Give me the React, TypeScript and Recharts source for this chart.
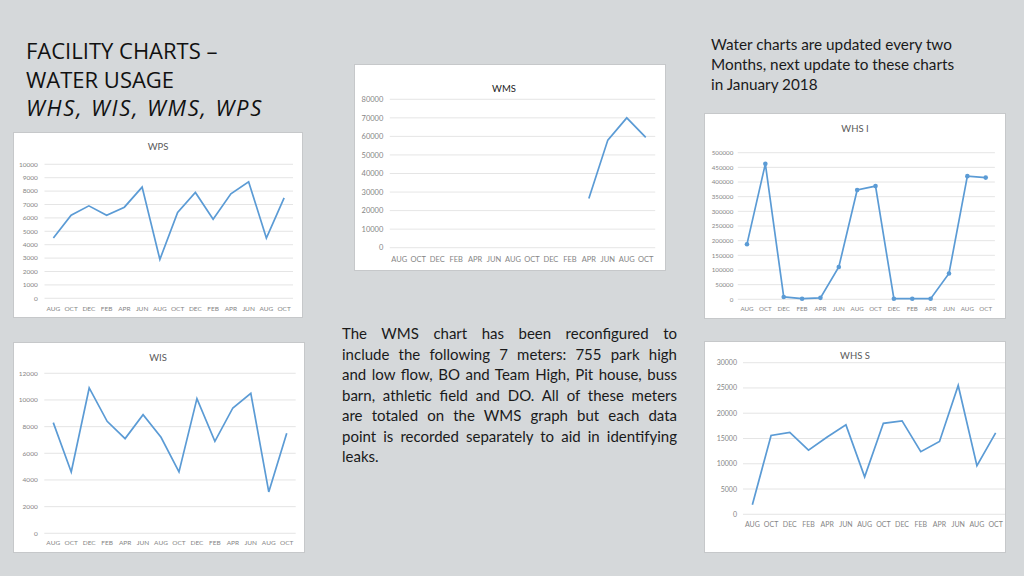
import React from 'react';
import { LineChart, Line, XAxis, YAxis, CartesianGrid } from 'recharts';

// meses (bimestral)
const MONTHS = ['AUG', 'OCT', 'DEC', 'FEB', 'APR', 'JUN', 'AUG', 'OCT', 'DEC', 'FEB', 'APR', 'JUN', 'AUG', 'OCT'];

const WPS = [4500, 6200, 6900, 6200, 6800, 8300, 2900, 6400, 7900, 5900, 7800, 8700, 4500, 7500];
const WIS = [8300, 4600, 10900, 8400, 7100, 8900, 7200, 4600, 10100, 6900, 9400, 10500, 3100, 7500];
const WMS = [null, null, null, null, null, null, null, null, null, null, 26500, 58000, 70000, 59500];
const WHS_I = [188000, 462000, 8000, 2000, 5000, 110000, 373000, 386000, 2000, 2000, 2000, 88000, 420000, 415000];
const WHS_S = [1900, 15600, 16200, 12700, 15300, 17700, 7400, 18000, 18500, 12400, 14400, 25500, 9600, 16100];

const WPS_TICKS = [0, 1000, 2000, 3000, 4000, 5000, 6000, 7000, 8000, 9000, 10000];
const WIS_TICKS = [0, 2000, 4000, 6000, 8000, 10000, 12000];
const WMS_TICKS = [0, 10000, 20000, 30000, 40000, 50000, 60000, 70000, 80000];
const WHS_I_TICKS = [0, 50000, 100000, 150000, 200000, 250000, 300000, 350000, 400000, 450000, 500000];
const WHS_S_TICKS = [0, 5000, 10000, 15000, 20000, 25000, 30000];

const BLUE = '#5b9bd5';
const GRID = '#dedede';
const TICK = '#858585';
const FONT = 'Lato, "Open Sans", sans-serif';

const rows = (vals) => MONTHS.map((m, i) => ({ month: m, value: vals[i] }));

const YW = 28;
const XH = 14;

function Panel({ box, plot, title, titleX, titleY, values, ticks, fs, yGap, xGap, dots, titleColor }) {
  const pw = plot.r - plot.l;
  const pad = pw / 28;
  const margin = {
    top: plot.t - box.y,
    left: plot.l - box.x - YW,
    right: box.x + box.w - plot.r,
    bottom: box.y + box.h - plot.b - XH,
  };
  return (
    <div style={{ position: 'absolute', left: box.x, top: box.y, width: box.w, height: box.h, background: '#fff', boxShadow: '0 0 0 1px #c6c8ca' }}>
      <div style={{ position: 'absolute', left: titleX - box.x, top: titleY - box.y, transform: 'translate(-50%, -50%)', fontFamily: FONT, fontSize: 9.5, color: titleColor || '#595959', whiteSpace: 'nowrap' }}>
        {title}
      </div>
      <LineChart width={box.w} height={box.h} data={rows(values)} margin={margin}>
        <CartesianGrid vertical={false} stroke={GRID} strokeWidth={0.8} />
        <XAxis
          dataKey="month"
          height={XH}
          interval={0}
          axisLine={false}
          tickLine={false}
          tickSize={0}
          tickMargin={xGap}
          padding={{ left: pad, right: pad }}
          tick={{ fontSize: fs, fill: TICK, fontFamily: FONT }}
        />
        <YAxis
          width={YW}
          domain={[0, ticks[ticks.length - 1]]}
          ticks={ticks}
          interval={0}
          axisLine={false}
          tickLine={false}
          tickSize={0}
          tickMargin={yGap}
          tick={{ fontSize: fs, fill: TICK, fontFamily: FONT }}
        />
        <Line
          type="linear"
          dataKey="value"
          stroke={BLUE}
          strokeWidth={1.7}
          dot={dots ? { r: 2.3, fill: BLUE, stroke: BLUE, strokeWidth: 0 } : false}
          activeDot={false}
          isAnimationActive={false}
        />
      </LineChart>
    </div>
  );
}

const paragraphLines = [
  'The WMS chart has been reconfigured to',
  'include the following 7 meters: 755 park high',
  'and low flow, BO and Team High, Pit house, buss',
  'barn, athletic field and DO. All of these meters',
  'are totaled on the WMS graph but each data',
  'point is recorded separately to aid in identifying',
  'leaks.',
];

const noteLines = [
  'Water charts are updated every two',
  'Months, next update to these charts',
  'in January 2018',
];

export default function App() {
  return (
    <div style={{ position: 'absolute', left: 0, top: 0, width: 1024, height: 576, background: '#d5d8da', overflow: 'hidden' }}>
      <div style={{ position: 'absolute', left: 26, top: 36, fontFamily: '"Open Sans", sans-serif', fontSize: 22, lineHeight: '28.5px', color: '#111', letterSpacing: 0 }}>
        <div>FACILITY CHARTS –</div>
        <div>WATER USAGE</div>
        <div style={{ fontStyle: 'italic', letterSpacing: 1.8 }}>WHS, WIS, WMS, WPS</div>
      </div>

      <div style={{ position: 'absolute', left: 711, top: 34, fontFamily: FONT, fontSize: 15.3, lineHeight: '20px', color: '#1a1a1a' }}>
        {noteLines.map((l, i) => <div key={i}>{l}</div>)}
      </div>

      <div style={{ position: 'absolute', left: 342, top: 323, width: 335, fontFamily: FONT, fontSize: 15, lineHeight: '20.5px', color: '#1a1a1a' }}>
        {paragraphLines.map((l, i) => (
          <div key={i} style={{ textAlign: i < paragraphLines.length - 1 ? 'justify' : 'left', textAlignLast: i < paragraphLines.length - 1 ? 'justify' : 'left', whiteSpace: 'nowrap' }}>{l}</div>
        ))}
      </div>

      <Panel
        box={{ x: 14, y: 133, w: 288, h: 184 }}
        plot={{ l: 44.5, r: 293, t: 164.3, b: 298.3 }}
        title="WPS" titleX={158} titleY={146}
        values={WPS} ticks={WPS_TICKS} fs={6.5} yGap={6.7} xGap={8}
      />
      <Panel
        box={{ x: 14, y: 343, w: 290, h: 209 }}
        plot={{ l: 44.3, r: 295.7, t: 373.3, b: 533.3 }}
        title="WIS" titleX={158} titleY={357}
        values={WIS} ticks={WIS_TICKS} fs={6.5} yGap={6.6} xGap={7}
      />
      <Panel
        box={{ x: 355, y: 65, w: 310, h: 205 }}
        plot={{ l: 389.8, r: 655.2, t: 99.3, b: 247.7 }}
        title="WMS" titleX={504} titleY={88}
        values={WMS} ticks={WMS_TICKS} fs={7.5} yGap={6.5} xGap={8.5} titleColor="#222"
      />
      <Panel
        box={{ x: 705, y: 114, w: 300, h: 204 }}
        plot={{ l: 737.8, r: 994.9, t: 152.7, b: 299.3 }}
        title="WHS I" titleX={855} titleY={128}
        values={WHS_I} ticks={WHS_I_TICKS} fs={6.2} yGap={4.5} xGap={7} dots
      />
      <Panel
        box={{ x: 705, y: 342, w: 300, h: 210 }}
        plot={{ l: 743, r: 1005, t: 362.7, b: 514.3 }}
        title="WHS S" titleX={855} titleY={355}
        values={WHS_S} ticks={WHS_S_TICKS} fs={7} yGap={6} xGap={8}
      />
    </div>
  );
}
